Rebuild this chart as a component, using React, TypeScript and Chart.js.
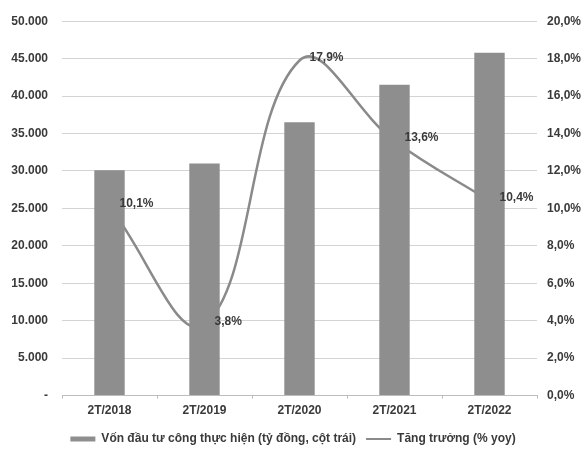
import React, { useEffect, useRef } from "react";
import { Chart, registerables } from "chart.js";

Chart.register(...registerables);

const categories = ["2T/2018", "2T/2019", "2T/2020", "2T/2021", "2T/2022"];
const investment = [30100, 31000, 36500, 41500, 45800];
const growth = [10.1, 3.8, 17.9, 13.6, 10.4];
const growthLabels = ["10,1%", "3,8%", "17,9%", "13,6%", "10,4%"];
const barLabel = "Vốn đầu tư công thực hiện (tỷ đồng, cột trái)";
const lineLabel = "Tăng trưởng (% yoy)";

const FONT = "'Liberation Sans', Arial, sans-serif";
const TXT = "#3a3a3a";

const fmtLeft = (v: number) =>
  v === 0 ? "-" : v.toLocaleString("de-DE", { minimumFractionDigits: 0 }).replace(/,/g, ".");
const fmtRight = (v: number) => v.toFixed(1).replace(".", ",") + "%";

const labelPlugin = {
  id: "growthLabels",
  afterDatasetsDraw(chart: any) {
    const meta = chart.getDatasetMeta(1);
    const ctx = chart.ctx;
    ctx.save();
    ctx.font = `bold 12px ${FONT}`;
    ctx.fillStyle = TXT;
    ctx.textAlign = "left";
    ctx.textBaseline = "middle";
    meta.data.forEach((pt: any, i: number) => {
      ctx.fillText(growthLabels[i], pt.x + 10, pt.y - 3);
    });
    ctx.restore();
  },
};

export default function App() {
  const ref = useRef<HTMLCanvasElement>(null);
  useEffect(() => {
    if (!ref.current) return;
    const tickFont = { family: FONT, size: 12, weight: "bold" as const };
    const chart = new Chart(ref.current, {
      type: "bar",
      data: {
        labels: categories,
        datasets: [
          {
            type: "bar",
            label: barLabel,
            data: investment,
            backgroundColor: "#8e8e8e",
            yAxisID: "y",
            order: 1,
            barPercentage: 0.64,
            categoryPercentage: 0.5,
          },
          {
            type: "line",
            label: lineLabel,
            data: growth,
            borderColor: "#8a8a8a",
            backgroundColor: "#8a8a8a",
            borderWidth: 2.5,
            pointRadius: 0,
            tension: 0.4,
            yAxisID: "y1",
            order: 2,
          },
        ],
      },
      options: {
        responsive: true,
        maintainAspectRatio: false,
        animation: false,
        layout: { padding: { top: 17, bottom: 0, left: 0, right: 0 } },
        plugins: {
          tooltip: { enabled: false },
          legend: {
            position: "bottom",
            labels: {
              usePointStyle: true,
              pointStyleWidth: 25,
              boxHeight: 5,
              padding: 10,
              color: TXT,
              font: { family: FONT, size: 12, weight: "bold" },
              generateLabels: () => [
                {
                  text: barLabel,
                  fillStyle: "#8e8e8e",
                  strokeStyle: "#8e8e8e",
                  lineWidth: 0,
                  pointStyle: "rect",
                  datasetIndex: 0,
                  fontColor: TXT,
                },
                {
                  text: lineLabel,
                  fillStyle: "#8a8a8a",
                  strokeStyle: "#8a8a8a",
                  lineWidth: 2,
                  pointStyle: "line",
                  datasetIndex: 1,
                  fontColor: TXT,
                },
              ],
            },
          },
        },
        scales: {
          x: {
            grid: { display: true, drawOnChartArea: false, tickLength: 3, color: "#bbb" },
            border: { color: "#bdbdbd" },
            ticks: { color: TXT, font: tickFont, padding: 5 },
          },
          y: {
            position: "left",
            min: 0,
            max: 50000,
            ticks: {
              stepSize: 5000,
              color: TXT,
              font: tickFont,
              padding: 14,
              callback: (v: any) => fmtLeft(Number(v)),
            },
            grid: { color: "#d4d4d4", drawTicks: false },
            border: { display: false },
            afterFit: (s: any) => {
              s.width = 62;
            },
          },
          y1: {
            position: "right",
            min: 0,
            max: 20,
            ticks: {
              stepSize: 2,
              color: TXT,
              font: tickFont,
              padding: 10,
              callback: (v: any) => fmtRight(Number(v)),
            },
            grid: { display: false, drawTicks: false },
            border: { display: false },
            afterFit: (s: any) => {
              s.width = 49;
            },
          },
        },
      } as any,
      plugins: [labelPlugin],
    });
    return () => chart.destroy();
  }, []);
  return (
    <div style={{ position: "fixed", left: 0, top: 0, width: 586, height: 455, background: "#fff" }}>
      <canvas ref={ref} />
    </div>
  );
}
